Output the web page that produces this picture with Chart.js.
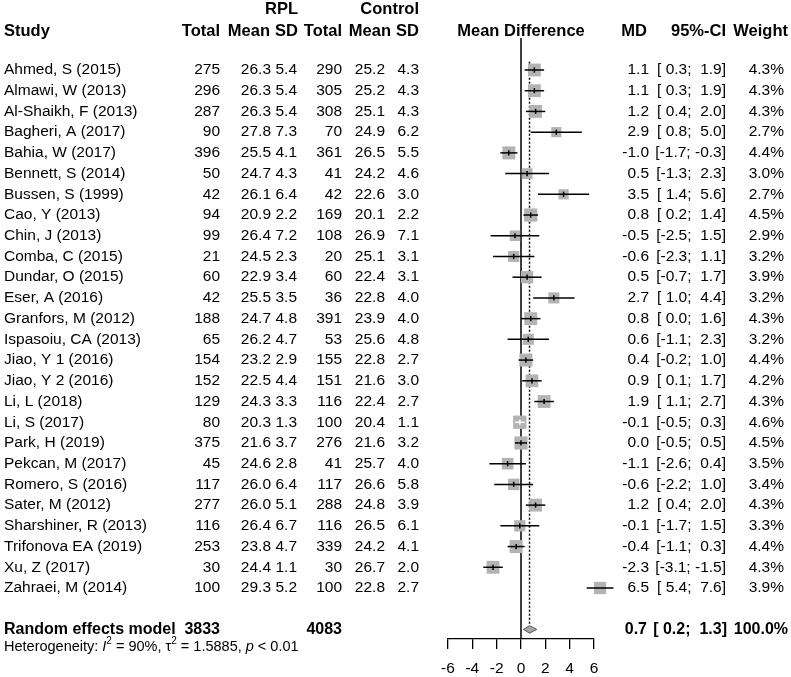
<!DOCTYPE html>
<html>
<head>
<meta charset="utf-8">
<script src="https://cdn.jsdelivr.net/npm/chart.js@4/dist/chart.umd.min.js"></script>
<style>
  body { margin: 0; background: #fff; }
</style>
</head>
<body>
<canvas id="forest" width="791" height="677"></canvas>
<script>
const FONT = '"Liberation Sans", Arial, Helvetica, sans-serif';

// ---- data ----
const studies = ["Ahmed, S (2015)", "Almawi, W (2013)", "Al-Shaikh, F (2013)", "Bagheri, A (2017)",
  "Bahia, W (2017)", "Bennett, S (2014)", "Bussen, S (1999)", "Cao, Y (2013)", "Chin, J (2013)",
  "Comba, C (2015)", "Dundar, O (2015)", "Eser, A (2016)", "Granfors, M (2012)", "Ispasoiu, CA (2013)",
  "Jiao, Y 1 (2016)", "Jiao, Y 2 (2016)", "Li, L (2018)", "Li, S (2017)", "Park, H (2019)",
  "Pekcan, M (2017)", "Romero, S (2016)", "Sater, M (2012)", "Sharshiner, R (2013)",
  "Trifonova EA (2019)", "Xu, Z (2017)", "Zahraei, M (2014)"];
const rplTotal = [275, 296, 287, 90, 396, 50, 42, 94, 99, 21, 60, 42, 188, 65, 154, 152, 129, 80, 375, 45, 117, 277, 116, 253, 30, 100];
const rplMean = [26.3, 26.3, 26.3, 27.8, 25.5, 24.7, 26.1, 20.9, 26.4, 24.5, 22.9, 25.5, 24.7, 26.2, 23.2, 22.5, 24.3, 20.3, 21.6, 24.6, 26.0, 26.0, 26.4, 23.8, 24.4, 29.3];
const rplSD = [5.4, 5.4, 5.4, 7.3, 4.1, 4.3, 6.4, 2.2, 7.2, 2.3, 3.4, 3.5, 4.8, 4.7, 2.9, 4.4, 3.3, 1.3, 3.7, 2.8, 6.4, 5.1, 6.7, 4.7, 1.1, 5.2];
const ctlTotal = [290, 305, 308, 70, 361, 41, 42, 169, 108, 20, 60, 36, 391, 53, 155, 151, 116, 100, 276, 41, 117, 288, 116, 339, 30, 100];
const ctlMean = [25.2, 25.2, 25.1, 24.9, 26.5, 24.2, 22.6, 20.1, 26.9, 25.1, 22.4, 22.8, 23.9, 25.6, 22.8, 21.6, 22.4, 20.4, 21.6, 25.7, 26.6, 24.8, 26.5, 24.2, 26.7, 22.8];
const ctlSD = [4.3, 4.3, 4.3, 6.2, 5.5, 4.6, 3.0, 2.2, 7.1, 3.1, 3.1, 4.0, 4.0, 4.8, 2.7, 3.0, 2.7, 1.1, 3.2, 4.0, 5.8, 3.9, 6.1, 4.1, 2.0, 2.7];
const md = [1.1, 1.1, 1.2, 2.9, -1.0, 0.5, 3.5, 0.8, -0.5, -0.6, 0.5, 2.7, 0.8, 0.6, 0.4, 0.9, 1.9, -0.1, 0.0, -1.1, -0.6, 1.2, -0.1, -0.4, -2.3, 6.5];
const ciLow = [0.3, 0.3, 0.4, 0.8, -1.7, -1.3, 1.4, 0.2, -2.5, -2.3, -0.7, 1.0, 0.0, -1.1, -0.2, 0.1, 1.1, -0.5, -0.5, -2.6, -2.2, 0.4, -1.7, -1.1, -3.1, 5.4];
const ciHigh = [1.9, 1.9, 2.0, 5.0, -0.3, 2.3, 5.6, 1.4, 1.5, 1.1, 1.7, 4.4, 1.6, 2.3, 1.0, 1.7, 2.7, 0.3, 0.5, 0.4, 1.0, 2.0, 1.5, 0.3, -1.5, 7.6];
const weight = [4.3, 4.3, 4.3, 2.7, 4.4, 3.0, 2.7, 4.5, 2.9, 3.2, 3.9, 3.2, 4.3, 3.2, 4.4, 4.2, 4.3, 4.6, 4.5, 3.5, 3.4, 4.3, 3.3, 4.4, 4.3, 3.9];

const groupTotals = [3833, 4083];
const pooled = [0.7, 0.2, 1.3];   // MD, lower, upper
const pooledWeight = "100.0%";
const hetI2 = "90%", hetTau2 = "1.5885", hetP = "< 0.01";
const xTicks = [-6, -4, -2, 0, 2, 4, 6];

// ---- layout ----
const FIRST_ROW_Y = 70, ROW_H = 20.72, AXIS_Y = 639;
const Y_MIN = -FIRST_ROW_Y / ROW_H;
const Y_MAX = Y_MIN + AXIS_Y / ROW_H;
const POOLED_ROW = studies.length + 1;
const HEAD_ROW = -1.88, GROUP_ROW = -2.9, HET_ROW = POOLED_ROW + 0.8;
const BOX_K = 6.2;
const boxSide = w => BOX_K * Math.sqrt(w);

const fmt = v => v.toFixed(1);
const ciText = (lo, hi) => "[" + fmt(lo).padStart(4, " ") + "; " + fmt(hi).padStart(4, " ") + "]";

// CI line drawn white when it sits inside its box
function ciInside(chart, i) {
  const x = chart.scales.x;
  return x.getPixelForValue(ciHigh[i]) - x.getPixelForValue(ciLow[i]) < boxSide(weight[i]) - 1.5;
}

const whiskerData = [];
studies.forEach((s, i) => {
  whiskerData.push({x: ciLow[i], y: i}, {x: ciHigh[i], y: i}, {x: null, y: null});
});

const tablePlugin = {
  id: "tableText",
  afterDraw(chart) {
    const ctx = chart.ctx;
    const ys = chart.scales.y;
    const put = (s, x, row, align, font) => {
      ctx.font = (font || "15.5px") + " " + FONT;
      ctx.textAlign = align;
      ctx.fillText(s, x, ys.getPixelForValue(row));
    };
    const H = "bold 16.5px", B = "bold 16px";
    ctx.save();
    ctx.fillStyle = "#000";
    ctx.textBaseline = "middle";

    // headers
    put("RPL", 298, GROUP_ROW, "right", H);
    put("Control", 419, GROUP_ROW, "right", H);
    put("Study", 4, HEAD_ROW, "left", H);
    put("Total", 220, HEAD_ROW, "right", H);
    put("Mean", 270, HEAD_ROW, "right", H);
    put("SD", 298, HEAD_ROW, "right", H);
    put("Total", 342, HEAD_ROW, "right", H);
    put("Mean", 391, HEAD_ROW, "right", H);
    put("SD", 419, HEAD_ROW, "right", H);
    put("Mean Difference", (chart.chartArea.left + chart.chartArea.right) / 2, HEAD_ROW, "center", H);
    put("MD", 647, HEAD_ROW, "right", H);
    put("95%-CI", 726, HEAD_ROW, "right", H);
    put("Weight", 788, HEAD_ROW, "right", H);

    // study rows
    studies.forEach((s, i) => {
      put(s, 4, i, "left");
      put(String(rplTotal[i]), 220, i, "right");
      put(fmt(rplMean[i]), 271, i, "right");
      put(fmt(rplSD[i]), 297, i, "right");
      put(String(ctlTotal[i]), 342, i, "right");
      put(fmt(ctlMean[i]), 385, i, "right");
      put(fmt(ctlSD[i]), 419, i, "right");
      put(fmt(md[i]), 649, i, "right");
      put(ciText(ciLow[i], ciHigh[i]), 726, i, "right");
      put(fmt(weight[i]) + "%", 784, i, "right");
    });

    // pooled row
    put("Random effects model", 4, POOLED_ROW, "left", B);
    put(String(groupTotals[0]), 220, POOLED_ROW, "right", B);
    put(String(groupTotals[1]), 342, POOLED_ROW, "right", B);
    put(fmt(pooled[0]), 647, POOLED_ROW, "right", B);
    put(ciText(pooled[1], pooled[2]), 727, POOLED_ROW, "right", B);
    put(pooledWeight, 788, POOLED_ROW, "right", B);

    // heterogeneity line with italics and superscripts
    const base = ys.getPixelForValue(HET_ROW) + 5;
    ctx.textBaseline = "alphabetic";
    ctx.textAlign = "left";
    let x = 4;
    const seg = (s, style, dy, size) => {
      ctx.font = style + " " + (size || 14.5) + "px " + FONT;
      ctx.fillText(s, x, base + (dy || 0));
      x += ctx.measureText(s).width;
    };
    seg("Heterogeneity: ", "normal");
    seg("I", "italic");
    seg("2", "normal", -7, 10);
    seg(" = " + hetI2 + ", ", "normal");
    seg("\u03C4", "normal");
    seg("2", "normal", -7, 10);
    seg(" = " + hetTau2 + ", ", "normal");
    seg("p", "italic");
    seg(" " + hetP, "normal");
    ctx.restore();
  }
};

new Chart(document.getElementById("forest"), {
  type: "scatter",
  data: {
    datasets: [
      { // estimate tick
        type: "scatter",
        data: md.map((v, i) => ({x: v, y: i})),
        pointStyle: "line",
        rotation: 90,
        pointRadius: 2.6,
        pointBorderWidth: 1.5,
        pointBorderColor: c => ciInside(c.chart, c.dataIndex) ? "#fff" : "#000",
        clip: false,
        order: 0
      },
      { // confidence intervals
        type: "line",
        data: whiskerData,
        borderColor: "#000",
        borderWidth: 1.5,
        pointRadius: 0,
        spanGaps: false,
        segment: {
          borderColor: c => ciInside(c.chart, Math.floor(c.p0DataIndex / 3)) ? "#fff" : "#000"
        },
        clip: false,
        order: 1
      },
      { // weighted boxes
        type: "scatter",
        data: md.map((v, i) => ({x: v, y: i})),
        pointStyle: "rect",
        pointRadius: c => boxSide(weight[c.dataIndex]) / (2 * Math.SQRT1_2),
        pointBackgroundColor: "#b3b3b3",
        pointBorderWidth: 0,
        clip: false,
        order: 2
      },
      { // pooled diamond
        type: "line",
        data: [
          {x: pooled[1], y: POOLED_ROW}, {x: pooled[0], y: POOLED_ROW - 0.18},
          {x: pooled[2], y: POOLED_ROW}, {x: pooled[0], y: POOLED_ROW + 0.18},
          {x: pooled[1], y: POOLED_ROW}
        ],
        borderColor: "#555",
        borderWidth: 1,
        backgroundColor: "#a6a6a6",
        fill: "shape",
        pointRadius: 0,
        order: 3
      },
      { // pooled estimate dotted line
        type: "line",
        data: [{x: pooled[0], y: -0.4}, {x: pooled[0], y: POOLED_ROW - 0.18}],
        borderColor: "#000",
        borderWidth: 1.5,
        borderDash: [2, 2],
        pointRadius: 0,
        order: 4
      },
      { // line of no effect
        type: "line",
        data: [{x: 0, y: -1.54}, {x: 0, y: Y_MAX}],
        borderColor: "#000",
        borderWidth: 1.5,
        pointRadius: 0,
        clip: false,
        order: 5
      }
    ]
  },
  options: {
    responsive: false,
    animation: false,
    events: [],
    layout: { autoPadding: false, padding: { left: 448, right: 197, top: 0, bottom: 0 } },
    plugins: { legend: { display: false }, tooltip: { enabled: false } },
    scales: {
      x: {
        type: "linear",
        min: -6,
        max: 6,
        afterBuildTicks: axis => { axis.ticks = xTicks.map(v => ({value: v})); },
        afterFit: axis => { axis.height = 677 - AXIS_Y; },
        ticks: { color: "#000", font: { family: FONT, size: 15.5 }, padding: 10, maxRotation: 0, autoSkip: false },
        grid: { drawOnChartArea: false, drawTicks: true, tickLength: 10, color: "#000", lineWidth: 1.3 },
        border: { display: true, color: "#000", width: 1.3 }
      },
      y: { type: "linear", display: false, reverse: true, min: Y_MIN, max: Y_MAX }
    }
  },
  plugins: [tablePlugin]
});
</script>
</body>
</html>
